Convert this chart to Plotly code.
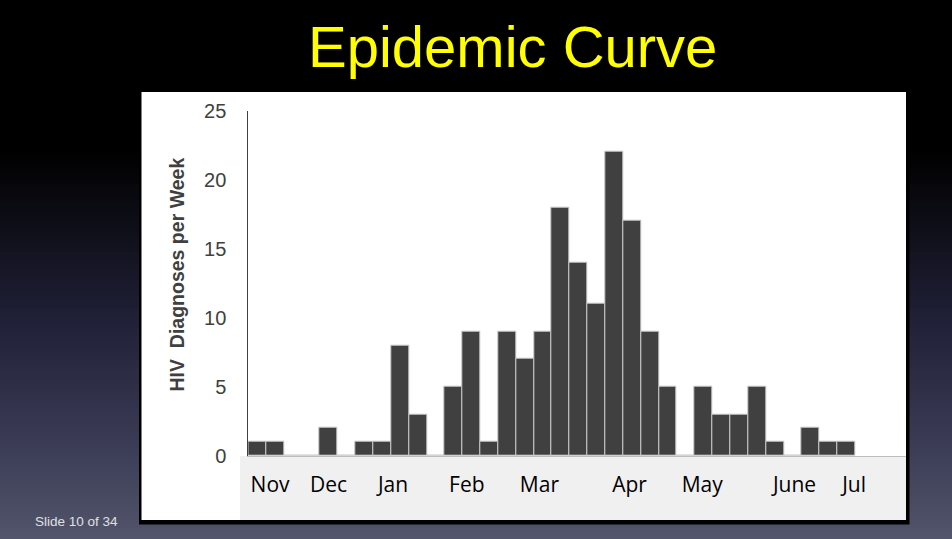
import plotly.graph_objects as go

# ---- data ----
weekly_diagnoses = [1, 1, 0, 0, 2, 0, 1, 1, 8, 3, 0, 5, 9, 1, 9, 7, 9, 18, 14, 11,
                    22, 17, 9, 5, 0, 5, 3, 3, 5, 1, 0, 2, 1, 1]
week_index = list(range(len(weekly_diagnoses)))
month_labels = ["Nov", "Dec", "Jan", "Feb", "Mar", "Apr", "May", "June", "Jul"]
month_tick_pos = [0.72, 4.0, 7.61, 11.74, 15.81, 20.86, 24.93, 30.1, 33.44]
y_ticks = [0, 5, 10, 15, 20, 25]

W, H = 952, 539

def px(x):
    return x / W

def py(y):
    return 1 - y / H

fig = go.Figure()
fig.add_trace(go.Bar(
    x=week_index, y=weekly_diagnoses, width=1.0,
    marker=dict(color="#404040", line=dict(color="#c8c8c8", width=1)),
    hoverinfo="skip", showlegend=False,
))

shapes = []
# background gradient (black top -> slate blue bottom)
stops = [(0, (0, 0, 0)), (150, (0, 0, 0)), (330, (34, 34, 58)), (450, (60, 61, 86)), (539, (82, 85, 108))]
def col(y):
    for (y0, c0), (y1, c1) in zip(stops[:-1], stops[1:]):
        if y0 <= y <= y1:
            t = (y - y0) / (y1 - y0) if y1 > y0 else 0
            return "rgb(%d,%d,%d)" % tuple(round(a + (b - a) * t) for a, b in zip(c0, c1))
    return "rgb(82,85,108)"
step = 4
for y in range(140, 540, step):
    shapes.append(dict(type="rect", xref="paper", yref="paper", x0=0, x1=1,
                       y0=py(min(y + step + 0.5, H)), y1=py(y), fillcolor=col(y + step / 2),
                       line=dict(width=0), layer="below"))
# chart panel: black frame, white body, grey label band
shapes.append(dict(type="rect", xref="paper", yref="paper", x0=px(139), x1=px(909.5),
                   y0=py(524.5), y1=py(90), fillcolor="#000000", line=dict(width=0), layer="below"))
shapes.append(dict(type="rect", xref="paper", yref="paper", x0=px(141.5), x1=px(906),
                   y0=py(520), y1=py(92), fillcolor="#ffffff", line=dict(width=0), layer="below"))
shapes.append(dict(type="rect", xref="paper", yref="paper", x0=px(240), x1=px(906),
                   y0=py(520), y1=py(456), fillcolor="#f0f0f0", line=dict(width=0), layer="below"))

x_left, x_right = 248.3, 906
pitch = 17.85
x_range = [-0.5, -0.5 + (x_right - x_left) / pitch]

fig.update_layout(
    width=W, height=H,
    margin=dict(l=0, r=0, t=0, b=0, autoexpand=False),
    paper_bgcolor="#000000",
    plot_bgcolor="rgba(0,0,0,0)",
    bargap=0,
    shapes=shapes,
    xaxis=dict(domain=[px(x_left), px(x_right)], range=x_range,
               tickmode="array", tickvals=month_tick_pos, ticktext=month_labels,
               tickfont=dict(family="Open Sans", size=21, color="#000000"),
               ticks="", ticklabelstandoff=10, automargin=False,
               showline=True, linecolor="#bdbdbd", linewidth=1,
               showgrid=False, zeroline=False, fixedrange=True),
    yaxis=dict(domain=[py(455.7), py(110.7)], range=[0, 25],
               tickmode="array", tickvals=y_ticks,
               tickfont=dict(family="Liberation Sans, Arial", size=20, color="#404040"),
               ticks="", ticklabelstandoff=17, automargin=False,
               showline=True, linecolor="#404040", linewidth=1,
               showgrid=False, zeroline=False, fixedrange=True),
    annotations=[
        dict(text="Epidemic Curve", xref="paper", yref="paper", x=px(512.5), y=py(47),
             xanchor="center", yanchor="middle", showarrow=False,
             font=dict(family="Liberation Sans, Arial", size=58, color="#ffff00")),
        dict(text="<b>HIV\u00a0 Diagnoses per Week</b>", xref="paper", yref="paper",
             x=px(176), y=py(274.5), xanchor="center", yanchor="middle", textangle=-90,
             showarrow=False,
             font=dict(family="Liberation Sans, Arial", size=19.5, color="#404040")),
        dict(text="Slide 10 of 34", xref="paper", yref="paper", x=px(33), y=py(521),
             xanchor="left", yanchor="middle", showarrow=False,
             font=dict(family="Liberation Sans, Arial", size=13.5, color="#e0e0e0")),
    ],
)

fig.write_html("out.html", config={"responsive": False, "displayModeBar": False},
               post_script="document.body.style.margin='0';document.body.style.overflow='hidden';")
